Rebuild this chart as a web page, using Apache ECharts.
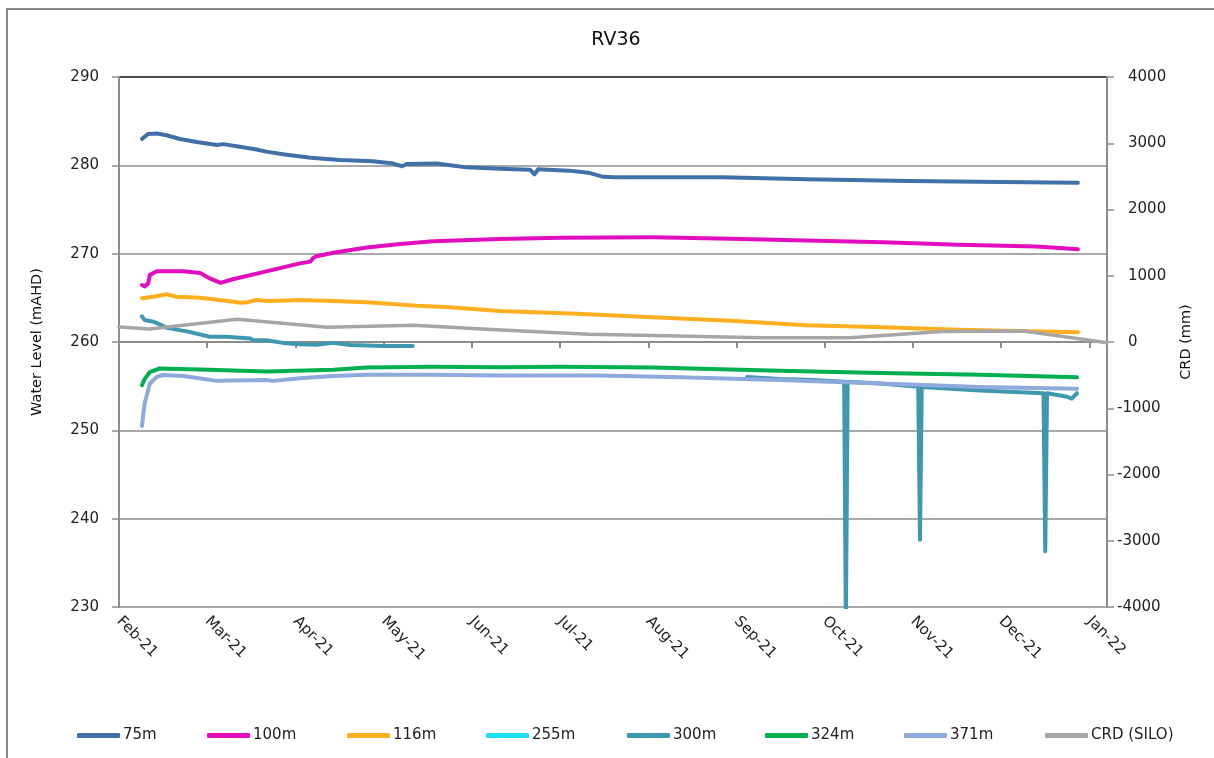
<!DOCTYPE html>
<html>
<head>
<meta charset="utf-8">
<title>RV36</title>
<script src="https://cdn.jsdelivr.net/npm/echarts@6/dist/echarts.min.js"></script>
<style>
  html, body { margin: 0; padding: 0; background: #fff; }
  #chart { width: 1214px; height: 758px; }
</style>
</head>
<body>
<div id="chart"></div>
<script>
// x values are months elapsed since 1 Feb 2021 (0 = Feb-21, 11 = Jan-22)
const monthLabels = ['Feb-21','Mar-21','Apr-21','May-21','Jun-21','Jul-21','Aug-21','Sep-21','Oct-21','Nov-21','Dec-21','Jan-22'];
const seriesNames = ['75m','100m','116m','255m','300m','324m','371m','CRD (SILO)'];
const seriesColors = ['#4170A8','#E20DBE','#FFAE1F','#1EE0F0','#3F97B0','#00B050','#8EA9DB','#A6A6A6'];

// Water level (mAHD) per bore depth
const wl75 = [
  [0.26,283.0],[0.33,283.55],[0.43,283.6],[0.54,283.4],[0.69,282.98],[0.88,282.64],[1.11,282.3],[1.18,282.4],
  [1.37,282.1],[1.56,281.8],[1.67,281.55],[1.86,281.25],[2.17,280.87],[2.51,280.6],[2.88,280.45],[3.11,280.2],
  [3.21,279.9],[3.26,280.15],[3.60,280.2],[3.94,279.77],[4.32,279.62],[4.66,279.5],[4.71,278.98],[4.75,279.55],
  [5.10,279.4],[5.32,279.17],[5.49,278.7],[5.62,278.64],[6.84,278.64],[7.79,278.42],[8.96,278.23],[9.99,278.12],[10.87,278.04]
];
const wl100 = [
  [0.26,266.45],[0.29,266.3],[0.33,266.6],[0.35,267.6],[0.43,268.0],[0.73,268.0],[0.92,267.8],[1.03,267.2],
  [1.15,266.7],[1.29,267.1],[1.67,268.0],[2.05,268.9],[2.17,269.1],[2.20,269.5],[2.24,269.7],[2.43,270.1],
  [2.81,270.7],[3.19,271.1],[3.56,271.4],[4.32,271.66],[5.00,271.8],[6.05,271.85],[6.93,271.7],[7.79,271.5],
  [8.66,271.3],[9.52,271.0],[10.40,270.8],[10.87,270.5]
];
const wl116 = [
  [0.26,264.95],[0.39,265.13],[0.54,265.4],[0.65,265.13],[0.92,265.0],[1.30,264.55],[1.37,264.44],[1.45,264.5],
  [1.56,264.75],[1.67,264.64],[1.90,264.7],[2.05,264.75],[2.43,264.64],[2.81,264.5],[3.38,264.1],[3.75,263.93],
  [4.32,263.5],[5.19,263.2],[6.05,262.8],[6.93,262.4],[7.79,261.9],[8.66,261.66],[9.52,261.4],[10.87,261.1]
];
const wl255 = [];
const wl300 = [
  [0.26,262.9],[0.29,262.5],[0.39,262.3],[0.46,262.0],[0.54,261.6],[0.77,261.2],[1.03,260.6],[1.22,260.6],
  [1.49,260.4],[1.52,260.2],[1.67,260.2],[1.86,259.9],[2.05,259.75],[2.24,259.7],[2.43,259.9],[2.62,259.65],
  [3.0,259.55],[3.33,259.55],
  [5.0,'-'],
  [7.12,256.05],[7.49,255.8],[7.87,255.7],[8.22,255.5],[8.24,228.0],[8.26,255.5],[8.63,255.3],
  [9.00,255.0],[9.06,254.95],[9.08,237.6],[9.10,254.9],[9.76,254.5],[10.48,254.2],[10.50,236.3],[10.52,254.2],
  [10.75,253.8],[10.80,253.6],[10.86,254.2]
];
const wl324 = [
  [0.26,255.1],[0.29,255.8],[0.35,256.6],[0.46,257.0],[0.92,256.9],[1.67,256.65],[2.43,256.85],[2.81,257.1],
  [3.56,257.2],[4.32,257.15],[5.00,257.2],[6.05,257.1],[6.93,256.9],[7.49,256.75],[8.63,256.5],[9.76,256.3],[10.86,256.0]
];
const wl371 = [
  [0.26,250.5],[0.29,253.0],[0.35,255.3],[0.43,256.07],[0.50,256.26],[0.73,256.15],[1.11,255.6],[1.67,255.7],
  [1.75,255.6],[2.05,255.9],[2.43,256.15],[2.81,256.3],[3.56,256.3],[4.32,256.2],[5.45,256.2],[6.36,256.0],
  [7.49,255.7],[8.63,255.3],[9.76,254.9],[10.86,254.7]
];
// Cumulative rainfall deviation (mm), SILO
const crd = [
  [0,226],[0.35,196],[1.34,342],[2.36,222],[3.34,252],[4.33,181],[5.33,116],[6.33,90],
  [7.28,65],[8.28,65],[9.33,160],[10.26,166],[11.2,-12]
];

const leftTicks = { min: 230, max: 290, step: 10 };
const rightTicks = { min: -4000, max: 4000, step: 1000 };

const seriesData = [wl75, wl100, wl116, wl255, wl300, wl324, wl371, crd];

const font = 'DejaVu Sans';
const chart = echarts.init(document.getElementById('chart'), null, { renderer: 'canvas' });

const nGrid = (leftTicks.max - leftTicks.min) / leftTicks.step + 1;
const gridColors = [];
for (let i = 0; i < nGrid; i++) gridColors.push(i === nGrid - 1 ? '#111' : '#8C8C8C');

// one legend per entry so each sits at its own slot along the bottom row
const legendLeft = [72, 202, 342, 481, 622, 760, 899, 1040];
const legends = seriesNames.map((name, i) => ({
  data: [name],
  left: legendLeft[i],
  top: 723,
  icon: 'roundRect',
  itemWidth: 43,
  itemHeight: 5,
  itemGap: 0,
  selectedMode: false,
  textStyle: { fontFamily: font, fontSize: 15, color: '#222', padding: [0, 0, 0, -2] }
}));

const option = {
  animation: false,
  backgroundColor: '#fff',
  title: {
    text: 'RV36',
    left: 611,
    top: 26,
    textAlign: 'center',
    textStyle: { fontFamily: font, fontSize: 19, fontWeight: 'normal', color: '#111' }
  },
  legend: legends,
  grid: { left: 119, right: 107, top: 77, bottom: 151, containLabel: false },
  xAxis: {
    type: 'value',
    min: 0,
    max: 11.2,
    interval: 1,
    axisLine: { show: true, lineStyle: { color: '#8C8C8C', width: 2 } },
    axisTick: { show: true, length: 6, lineStyle: { color: '#8C8C8C', width: 2 } },
    splitLine: { show: false },
    axisLabel: {
      rotate: -45,
      margin: 12,
      fontFamily: font,
      fontSize: 15,
      color: '#222',
      showMaxLabel: false,
      formatter: v => monthLabels[Math.round(v)] || ''
    }
  },
  yAxis: [
    {
      type: 'value',
      min: leftTicks.min,
      max: leftTicks.max,
      interval: leftTicks.step,
      name: 'Water Level (mAHD)',
      nameLocation: 'middle',
      nameGap: 74,
      nameRotate: 90,
      nameTextStyle: { fontFamily: font, fontSize: 14.5, color: '#111' },
      axisLine: { show: true, lineStyle: { color: '#8C8C8C', width: 2 } },
      axisTick: { show: true, length: 7, lineStyle: { color: '#8C8C8C', width: 1.5 } },
      splitLine: { show: true, lineStyle: { color: gridColors, width: 1.5 } },
      axisLabel: { margin: 20, fontFamily: font, fontSize: 15, color: '#222' }
    },
    {
      type: 'value',
      position: 'right',
      min: rightTicks.min,
      max: rightTicks.max,
      interval: rightTicks.step,
      name: 'CRD (mm)',
      nameLocation: 'middle',
      nameGap: 72,
      nameRotate: 90,
      nameTextStyle: { fontFamily: font, fontSize: 14.5, color: '#111' },
      axisLine: { show: true, lineStyle: { color: '#8C8C8C', width: 2 } },
      axisTick: { show: true, length: 7, lineStyle: { color: '#8C8C8C', width: 1.5 } },
      splitLine: { show: false },
      axisLabel: {
        margin: 10,
        fontFamily: font,
        fontSize: 15,
        color: '#222',
        // minus sign hangs to the left of the digit column
        formatter: v => (v < 0 ? '{neg|' + String(v) + '}' : '{pos|' + String(v) + '}'),
        rich: {
          pos: { fontFamily: font, fontSize: 15, color: '#222', padding: [0, 0, 0, 11] },
          neg: { fontFamily: font, fontSize: 15, color: '#222' }
        }
      }
    }
  ],
  series: seriesNames.map((name, i) => ({
    name: name,
    type: 'line',
    yAxisIndex: i === seriesNames.length - 1 ? 1 : 0,
    data: seriesData[i],
    showSymbol: false,
    symbol: 'none',
    connectNulls: false,
    clip: true,
    color: seriesColors[i],
    lineStyle: { color: seriesColors[i], width: i === seriesNames.length - 1 ? 3.5 : 4, cap: 'round', join: 'round' },
    z: 2 + i
  })),
  graphic: [
    {
      type: 'rect',
      shape: { x: 7, y: 9, width: 1400, height: 900 },
      style: { fill: 'none', stroke: '#8A8A8A', lineWidth: 2 },
      silent: true,
      z: -1
    }
  ]
};

chart.setOption(option);
</script>
</body>
</html>
